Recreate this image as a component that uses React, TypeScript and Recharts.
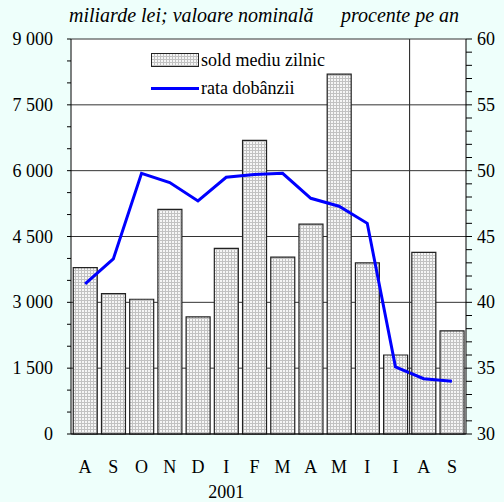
import { ComposedChart, Bar, Line, XAxis, YAxis, CartesianGrid, ReferenceLine } from 'recharts'

const MONTHS = ['A', 'S', 'O', 'N', 'D', 'I', 'F', 'M', 'A', 'M', 'I', 'I', 'A', 'S']
const YEAR_LABELS = ['', '', '', '', '', '2001', '', '', '', '', '', '', '', '']
const SOLD = [3790, 3200, 3070, 5120, 2670, 4230, 6690, 4030, 4780, 8200, 3900, 1800, 4140, 2350]
const RATA = [41.4, 43.3, 49.8, 49.1, 47.7, 49.5, 49.7, 49.8, 47.9, 47.3, 46.0, 35.1, 34.2, 34.0]

const LEFT_TICKS = [0, 500, 1000, 1500, 2000, 2500, 3000, 3500, 4000, 4500, 5000, 5500, 6000, 6500, 7000, 7500, 8000, 8500, 9000]
const LEFT_GRID = [0, 1500, 3000, 4500, 6000, 7500, 9000]
const RIGHT_TICKS = [30, 31, 32, 33, 34, 35, 36, 37, 38, 39, 40, 41, 42, 43, 44, 45, 46, 47, 48, 49, 50, 51, 52, 53, 54, 55, 56, 57, 58, 59, 60]
const SEPARATOR = 11.5 // between the 2nd "I" and "A"

const data = MONTHS.map((m, i) => ({ key: String(i), idx: i, m, year: YEAR_LABELS[i], sold: SOLD[i], rata: RATA[i] }))

const FONT = "'Times New Roman', 'Liberation Serif', serif"
const BG = '#eefffb'

const fmtLeft = (v: number) => (v % 1500 === 0 ? (v >= 1000 ? `${Math.floor(v / 1000)} ${String(v % 1000).padStart(3, '0')}` : String(v)) : '')
const fmtRight = (v: number) => (v % 5 === 0 ? String(v) : '')

function MonthTick({ x, y, index }: any) {
  const d = data[index]
  if (!d) return null
  return (
    <g>
      <text x={x} y={y + 39} textAnchor="middle" fontSize={18} fontFamily={FONT} fill="#000">
        {d.m}
      </text>
      {d.year ? (
        <text x={x} y={y + 64} textAnchor="middle" fontSize={18} fontFamily={FONT} fill="#000">
          {d.year}
        </text>
      ) : null}
    </g>
  )
}

function LeftTick({ x, y, payload }: any) {
  const label = fmtLeft(payload.value)
  if (!label) return null
  return (
    <text x={x} y={y} dy={6} textAnchor="end" fontSize={18} fontFamily={FONT} fill="#000">
      {label}
    </text>
  )
}

function RightTick({ x, y, payload }: any) {
  const label = fmtRight(payload.value)
  if (!label) return null
  return (
    <text x={x} y={y} dy={6} textAnchor="start" fontSize={18} fontFamily={FONT} fill="#000">
      {label}
    </text>
  )
}

function LegendBox() {
  const row = { display: 'flex', alignItems: 'center', height: 28 }
  return (
    <div style={{ position: 'absolute', left: 151, top: 46, fontFamily: FONT, fontSize: 18, color: '#000', lineHeight: '18px' }}>
      <div style={row}>
        <svg width={49} height={15} style={{ marginRight: 1 }}>
          <rect x={0.5} y={0.5} width={47} height={13} fill="url(#dots)" stroke="#222" />
        </svg>
        <span>sold mediu zilnic</span>
      </div>
      <div style={row}>
        <svg width={49} height={15} style={{ marginRight: 1 }}>
          <line x1={0} x2={48} y1={7.5} y2={7.5} stroke="#0000ff" strokeWidth={3} />
        </svg>
        <span>rata dobânzii</span>
      </div>
    </div>
  )
}

export default function App() {
  return (
    <div style={{ position: 'absolute', left: 0, top: 0, width: 504, height: 502, background: BG, fontFamily: FONT }}>
      <div style={{ position: 'absolute', left: 69, top: 4, fontSize: 20, fontStyle: 'italic' }}>miliarde lei; valoare nominală</div>
      <div style={{ position: 'absolute', left: 341, top: 4, fontSize: 20, fontStyle: 'italic' }}>procente pe an</div>
      <ComposedChart width={504} height={502} data={data} margin={{ top: 39, right: 0, bottom: 0, left: 0 }} barCategoryGap="8%">
        <defs>
          <pattern id="dots" width={3} height={3} patternUnits="userSpaceOnUse">
            <rect width={3} height={3} fill="#c2c2c2" />
            <rect x={1} y={1} width={2} height={2} fill="#f6f6f6" />
          </pattern>
        </defs>
        <CartesianGrid yAxisId="left" vertical={false} horizontalValues={LEFT_GRID} stroke="#333" fill="#fff" />
        <CartesianGrid xAxisId="n" yAxisId="left" horizontal={false} verticalValues={[SEPARATOR]} stroke="#333" />
        <XAxis dataKey="key" height={68} axisLine={{ stroke: '#000' }} tickLine={false} tickSize={0} tickMargin={0} tick={<MonthTick />} interval={0} />
        <XAxis xAxisId="n" dataKey="idx" type="number" domain={[-0.5, 13.5]} allowDataOverflow hide />
        <YAxis
          yAxisId="left"
          width={71}
          domain={[0, 9000]}
          ticks={LEFT_TICKS}
          interval={0}
          axisLine={{ stroke: '#000' }}
          tickLine={{ stroke: '#000' }}
          tickSize={4}
          tickMargin={14}
          tick={<LeftTick />}
        />
        <YAxis
          yAxisId="right"
          orientation="right"
          width={38}
          domain={[30, 60]}
          ticks={RIGHT_TICKS}
          interval={0}
          axisLine={{ stroke: '#000' }}
          tickLine={{ stroke: '#000' }}
          tickSize={6}
          tickMargin={5}
          tick={<RightTick />}
        />
        <Bar yAxisId="left" dataKey="sold" fill="url(#dots)" stroke="#222" strokeWidth={1.2} isAnimationActive={false} />
        <Line yAxisId="right" dataKey="rata" type="linear" stroke="#0000ff" strokeWidth={3} dot={false} isAnimationActive={false} />
        <ReferenceLine yAxisId="left" xAxisId="n" x={SEPARATOR} stroke="#333" strokeWidth={1} />
      </ComposedChart>
      <LegendBox />
    </div>
  )
}
